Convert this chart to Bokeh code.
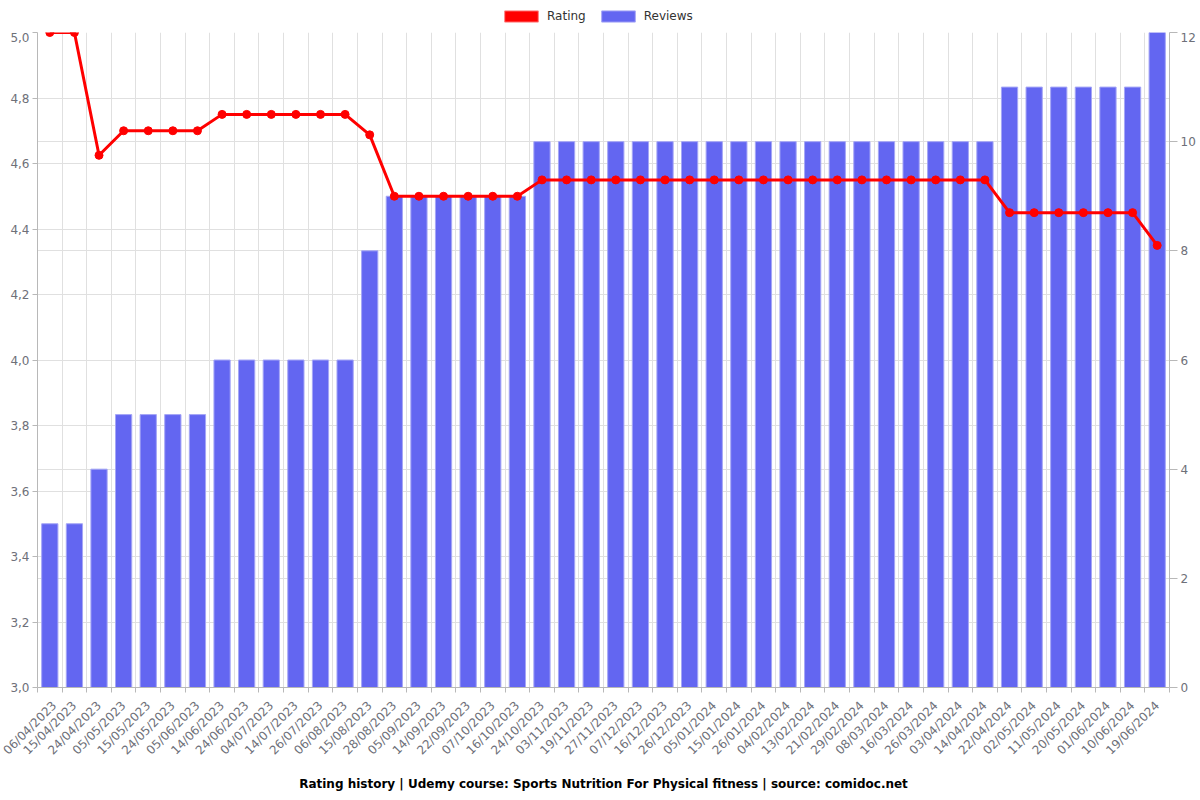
import math
from bokeh.plotting import figure
from bokeh.layouts import column
from bokeh.models import (Range1d, LinearAxis, FixedTicker, CustomJSTickFormatter, Legend,
                          LegendItem, Title, Grid, ColumnDataSource)
from bokeh.embed import file_html
from bokeh.resources import INLINE

dates = ["06/04/2023", "15/04/2023", "24/04/2023", "05/05/2023", "15/05/2023", "24/05/2023",
         "05/06/2023", "14/06/2023", "24/06/2023", "04/07/2023", "14/07/2023", "26/07/2023",
         "06/08/2023", "15/08/2023", "28/08/2023", "05/09/2023", "14/09/2023", "22/09/2023",
         "07/10/2023", "16/10/2023", "24/10/2023", "03/11/2023", "19/11/2023", "27/11/2023",
         "07/12/2023", "16/12/2023", "26/12/2023", "05/01/2024", "15/01/2024", "26/01/2024",
         "04/02/2024", "13/02/2024", "21/02/2024", "29/02/2024", "08/03/2024", "16/03/2024",
         "26/03/2024", "03/04/2024", "14/04/2024", "22/04/2024", "02/05/2024", "11/05/2024",
         "20/05/2024", "01/06/2024", "10/06/2024", "19/06/2024"]

rating = [5.0, 5.0, 4.625, 4.7, 4.7, 4.7, 4.7, 4.75, 4.75, 4.75, 4.75, 4.75, 4.75, 4.6875,
          4.5, 4.5, 4.5, 4.5, 4.5, 4.5,
          4.55, 4.55, 4.55, 4.55, 4.55, 4.55, 4.55, 4.55, 4.55, 4.55, 4.55, 4.55, 4.55, 4.55,
          4.55, 4.55, 4.55, 4.55, 4.55,
          4.45, 4.45, 4.45, 4.45, 4.45, 4.45, 4.35]

reviews = [3, 3, 4, 5, 5, 5, 5, 6, 6, 6, 6, 6, 6, 8, 9, 9, 9, 9, 9, 9,
           10, 10, 10, 10, 10, 10, 10, 10, 10, 10, 10, 10, 10, 10, 10, 10, 10, 10, 10,
           11, 11, 11, 11, 11, 11, 12]

rating_ticks = [3.0, 3.2, 3.4, 3.6, 3.8, 4.0, 4.2, 4.4, 4.6, 4.8, 5.0]
review_ticks = [0, 2, 4, 6, 8, 10, 12]
series_names = ["Rating", "Reviews"]
title_text = "Rating history | Udemy course: Sports Nutrition For Physical fitness | source: comidoc.net"

FONT = "DejaVu Sans"
LABEL_COLOR = "#6e7079"
GRID_COLOR = "#e0e0e0"
AXIS_COLOR = "#b8b8b8"
RED = "#ff0000"
BLUE = "#6366f1"

n = len(dates)
xs = [i + 0.5 for i in range(n)]
src = ColumnDataSource(dict(x=xs, rating=rating, reviews=reviews))

# ---------------- legend strip ----------------
lg = figure(width=1200, height=32, x_range=Range1d(0, 1), y_range=Range1d(0, 1),
            output_backend="svg", toolbar_location=None, x_axis_type=None, y_axis_type=None,
            min_border_left=0, min_border_right=0, min_border_top=0, min_border_bottom=0)
lg.outline_line_color = None
lg.xgrid.visible = False
lg.ygrid.visible = False
sw_rating = lg.vbar(x=[-10], top=[0], width=0.5, fill_color=RED, line_color="#ff8080")
sw_reviews = lg.vbar(x=[-10], top=[0], width=0.5, fill_color=BLUE, line_color="#a5a6f6")
legend = Legend(items=[LegendItem(label=series_names[0], renderers=[sw_rating]),
                       LegendItem(label=series_names[1], renderers=[sw_reviews])],
                orientation="horizontal", location=(463, 9),
                border_line_color=None, background_fill_alpha=0,
                glyph_width=42, glyph_height=14, label_standoff=5, spacing=11,
                padding=0, margin=0, label_height=14,
                label_text_font=FONT, label_text_font_size="12px", label_text_color="#333333")
lg.add_layout(legend)

# ---------------- main chart ----------------
p = figure(width=1200, height=768, x_range=Range1d(0, n), y_range=Range1d(3, 5),
           output_backend="svg", toolbar_location=None,
           min_border_left=37, min_border_right=31, min_border_top=0, min_border_bottom=113)
p.extra_y_ranges = {"rev": Range1d(0, 12)}
p.outline_line_color = None
p.background_fill_color = "white"

# x axis
xa = p.xaxis[0]
xa.ticker = FixedTicker(ticks=xs, minor_ticks=list(range(n + 1)))
xa.formatter = CustomJSTickFormatter(args=dict(labels=dates),
                                     code="return labels[Math.floor(tick)];")
xa.major_tick_out = 0
xa.major_tick_in = 0
xa.minor_tick_out = 5
xa.minor_tick_in = 0
xa.minor_tick_line_color = AXIS_COLOR
xa.axis_line_color = AXIS_COLOR
xa.major_label_orientation = math.pi / 4
xa.major_label_text_font = FONT
xa.major_label_text_font_size = "12px"
xa.major_label_text_color = LABEL_COLOR
xa.major_label_standoff = 11

# left axis
ya = p.yaxis[0]
ya.ticker = FixedTicker(ticks=rating_ticks)
ya.formatter = CustomJSTickFormatter(code="return tick.toFixed(1).replace('.', ',');")
ya.major_tick_out = 5
ya.major_tick_in = 0
ya.minor_tick_out = 0
ya.minor_tick_in = 0
ya.major_tick_line_color = AXIS_COLOR
ya.axis_line_color = AXIS_COLOR
ya.major_label_text_font = FONT
ya.major_label_text_font_size = "12px"
ya.major_label_text_color = LABEL_COLOR
ya.major_label_standoff = 3

# right axis
ra = LinearAxis(y_range_name="rev", ticker=FixedTicker(ticks=review_ticks))
ra.major_tick_out = 8
ra.major_tick_in = 0
ra.minor_tick_out = 0
ra.minor_tick_in = 0
ra.major_tick_line_color = AXIS_COLOR
ra.axis_line_color = AXIS_COLOR
ra.major_label_text_font = FONT
ra.major_label_text_font_size = "12px"
ra.major_label_text_color = LABEL_COLOR
ra.major_label_standoff = 3
p.add_layout(ra, "right")

# grids
p.xgrid.ticker = FixedTicker(ticks=list(range(n + 1)))
p.xgrid.grid_line_color = GRID_COLOR
p.ygrid.grid_line_color = GRID_COLOR
g2 = Grid(dimension=1, ticker=FixedTicker(ticks=review_ticks), y_range_name="rev",
          grid_line_color=GRID_COLOR)
p.add_layout(g2)

# bars
bars = p.vbar(x="x", top="reviews", bottom=0, width=0.66, source=src, y_range_name="rev",
              fill_color=BLUE, line_color="#a5a6f6", line_width=1)

# rating line
p.line(x="x", y="rating", source=src, line_color=RED, line_width=3)
p.scatter(x="x", y="rating", source=src, size=8, fill_color=RED, line_color=RED)

t = Title(text=title_text, align="center", text_font=FONT, text_font_size="12px",
          text_font_style="bold", text_color="#000000", standoff=19)
p.add_layout(t, "below")

layout = column(lg, p, spacing=0)
open("out.html", "w").write(file_html(layout, INLINE))
